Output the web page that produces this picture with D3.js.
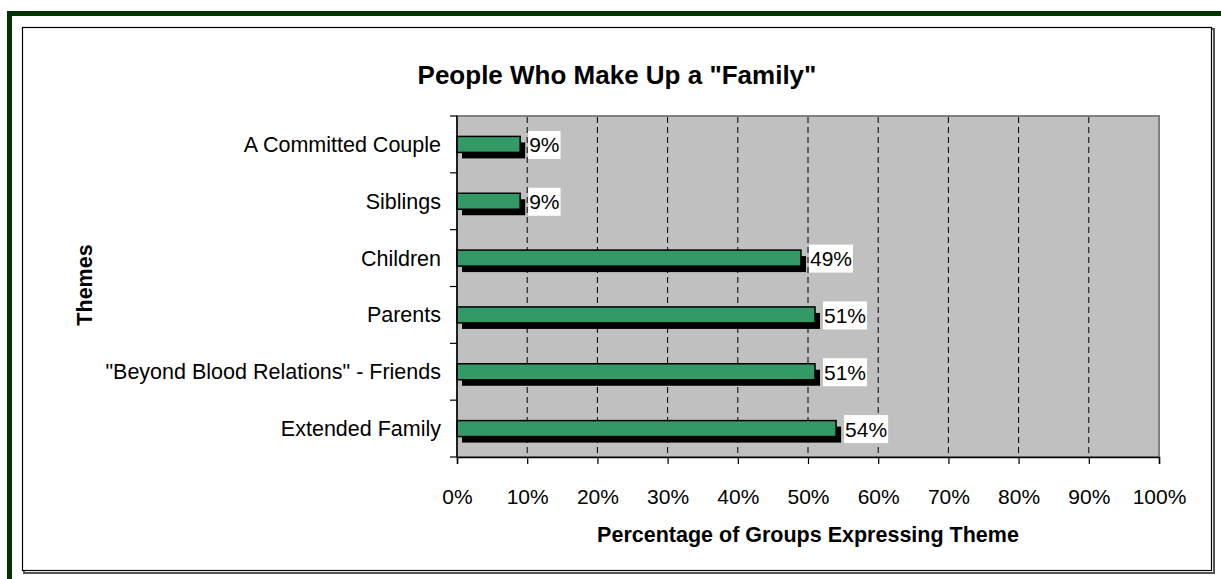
<!DOCTYPE html>
<html>
<head>
<meta charset="utf-8">
<script src="https://cdn.jsdelivr.net/npm/d3@7"></script>
<style>
  html, body { margin: 0; padding: 0; background: #ffffff; }
  svg { display: block; font-family: "Liberation Sans", Arial, sans-serif; }
</style>
</head>
<body>
<svg id="chart" width="1221" height="579"></svg>
<script>
// Themes mentioned by groups, top to bottom
const categories = [
  "A Committed Couple",
  "Siblings",
  "Children",
  "Parents",
  "\"Beyond Blood Relations\" - Friends",
  "Extended Family"
];
// Percentage of groups expressing each theme
const values = [9, 9, 49, 51, 51, 54];
const valueLabels = ["9%", "9%", "49%", "51%", "51%", "54%"];
// Horizontal axis ticks
const tickValues = [0, 10, 20, 30, 40, 50, 60, 70, 80, 90, 100];
const tickLabels = ["0%", "10%", "20%", "30%", "40%", "50%", "60%", "70%", "80%", "90%", "100%"];

const svg = d3.select("#chart");

// Dark green page frame
svg.append("rect").attr("x", 7).attr("y", 11).attr("width", 1221).attr("height", 600)
  .attr("fill", "#003300");
svg.append("rect").attr("x", 12).attr("y", 16).attr("width", 1221).attr("height", 600)
  .attr("fill", "#ffffff");

// Chart box with a soft shadow
svg.append("rect").attr("x", 24).attr("y", 29).attr("width", 1190).attr("height", 544)
  .attr("fill", "none").attr("stroke", "#555").attr("stroke-width", 2);
svg.append("rect").attr("x", 22.5).attr("y", 27.5).attr("width", 1189).attr("height", 543)
  .attr("fill", "#ffffff").attr("stroke", "#000").attr("stroke-width", 1.2);

const plot = { left: 457, right: 1159, top: 116, bottom: 457 };

const x = d3.scaleLinear().domain([0, 100]).range([plot.left, plot.right]);
const y = d3.scaleBand().domain(categories).range([plot.top, plot.bottom]);

const labelSize = 21;

// Plot area
svg.append("rect")
  .attr("x", plot.left).attr("y", plot.top)
  .attr("width", plot.right - plot.left).attr("height", plot.bottom - plot.top)
  .attr("fill", "#c0c0c0").attr("stroke", "#808080").attr("stroke-width", 2);

// Dashed vertical gridlines
svg.append("g").selectAll("line")
  .data(tickValues.filter(t => t > 0 && t < 100))
  .join("line")
  .attr("x1", d => x(d)).attr("x2", d => x(d))
  .attr("y1", plot.top + 1).attr("y2", plot.bottom)
  .attr("stroke", "#000").attr("stroke-width", 1)
  .attr("stroke-dasharray", "6,4");

// Bars: drop shadow behind a green face
const barH = 16;
const bars = svg.append("g").selectAll("g")
  .data(categories.map((c, i) => ({ c, v: values[i], label: valueLabels[i] })))
  .join("g");

bars.append("rect")
  .attr("x", x(0) + 5)
  .attr("y", d => y(d.c) + y.bandwidth() / 2 - barH / 2 + 6)
  .attr("width", d => x(d.v) - x(0))
  .attr("height", barH)
  .attr("fill", "#000");

bars.append("rect")
  .attr("x", x(0))
  .attr("y", d => y(d.c) + y.bandwidth() / 2 - barH / 2)
  .attr("width", d => x(d.v) - x(0))
  .attr("height", barH)
  .attr("fill", "#339966").attr("stroke", "#000").attr("stroke-width", 1.5);

// Value labels on white boxes
bars.each(function(d) {
  const g = d3.select(this);
  const cy = y(d.c) + y.bandwidth() / 2 + 0.5;
  const tx = x(d.v) + 9;
  const t = g.append("text")
    .attr("x", tx).attr("y", cy + 7.5)
    .attr("font-size", labelSize).attr("fill", "#000")
    .text(d.label);
  const w = t.node().getComputedTextLength();
  g.insert("rect", "text")
    .attr("x", tx - 1).attr("y", cy - 14)
    .attr("width", w + 2).attr("height", 28)
    .attr("fill", "#ffffff");
});

// Axes
const xAxis = d3.axisBottom(x).tickValues(tickValues).tickSize(7)
  .tickFormat((d, i) => tickLabels[i]);
const gx = svg.append("g").attr("transform", `translate(0,${plot.bottom})`).call(xAxis);
gx.select(".domain").attr("stroke", "#000").attr("stroke-width", 1.5);
gx.selectAll(".tick line").attr("stroke", "#000").attr("stroke-width", 1.2);
gx.selectAll(".tick text").attr("font-size", labelSize).attr("fill", "#000")
  .attr("font-family", "Liberation Sans, Arial, sans-serif").attr("dy", 0).attr("y", 47);

// Left axis: line with ticks at category boundaries
svg.append("line")
  .attr("x1", plot.left).attr("x2", plot.left)
  .attr("y1", plot.top).attr("y2", plot.bottom)
  .attr("stroke", "#000").attr("stroke-width", 1.5);
const bounds = categories.map(c => y(c)).concat([plot.bottom]);
svg.append("g").selectAll("line").data(bounds).join("line")
  .attr("x1", plot.left - 7).attr("x2", plot.left)
  .attr("y1", d => d).attr("y2", d => d)
  .attr("stroke", "#000").attr("stroke-width", 1.2);

svg.append("g").selectAll("text").data(categories).join("text")
  .attr("x", plot.left - 16)
  .attr("y", d => y(d) + y.bandwidth() / 2 + 7.5)
  .attr("text-anchor", "end")
  .attr("font-size", 21.5).attr("fill", "#000")
  .text(d => d);

// Titles
svg.append("text")
  .attr("x", 617).attr("y", 84)
  .attr("text-anchor", "middle")
  .attr("font-size", 26).attr("font-weight", "bold")
  .text("People Who Make Up a \"Family\"");

svg.append("text")
  .attr("x", 808).attr("y", 542)
  .attr("text-anchor", "middle")
  .attr("font-size", 21.5).attr("font-weight", "bold")
  .text("Percentage of Groups Expressing Theme");

svg.append("text")
  .attr("transform", "translate(92,285) rotate(-90)")
  .attr("text-anchor", "middle")
  .attr("font-size", 21.5).attr("font-weight", "bold")
  .text("Themes");
</script>
</body>
</html>
